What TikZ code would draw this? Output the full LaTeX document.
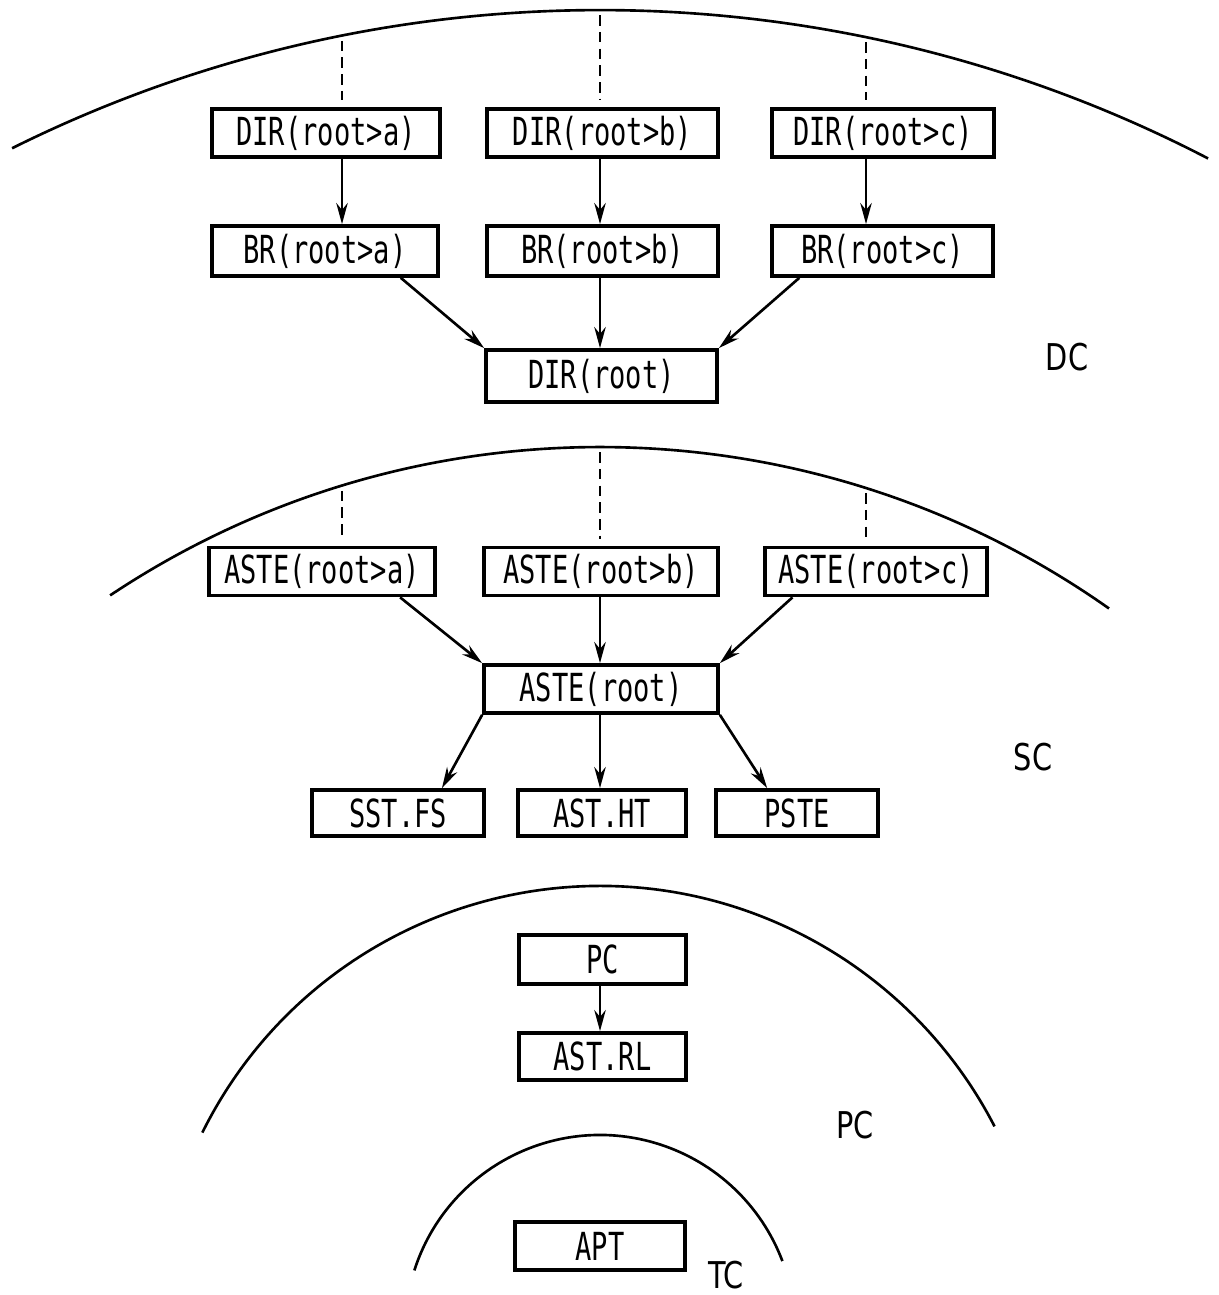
\documentclass[tikz,border=0pt]{standalone}
\usepackage{fontspec}
\usepackage{tikz}
\usetikzlibrary{arrows.meta,positioning,calc}
\newfontfamily\plotfont[FakeStretch=0.7]{DejaVu Sans Mono}
\newfontfamily\zonefont[FakeStretch=0.78]{DejaVu Sans}

\tikzset{
  box/.style={draw,line width=2.1pt,fill=white,inner sep=0pt,
              minimum height=0.96cm,font=\plotfont\fontsize{22}{24}\selectfont},
  arr/.style={-{Stealth[length=12pt,width=6.5pt]},line width=1.5pt},
  dashlink/.style={dash pattern=on 6pt off 3.5pt,line width=1.3pt,
                   shorten <=3pt,shorten >=4pt},
  ring/.style={line width=1.5pt},
  zonelabel/.style={font=\zonefont\fontsize{21}{22}\selectfont}
}

\begin{document}
\begin{tikzpicture}

    \useasboundingbox (0,0) rectangle (24.36,25.9);

    % common centre of the rings
    \coordinate (ctr) at (12,-0.7);
    \coordinate (colA) at (6.84,0);
    \coordinate (colB) at (12.0,0);
    \coordinate (colC) at (17.32,0);

    % ── rings ─────────────────────────────────────────────
    \draw[ring] ($(ctr)+(116.45:26.4)$) arc[start angle=116.45,end angle=62.57,radius=26.4];
    \draw[ring] ($(ctr)+(123.7:17.66)$) arc[start angle=123.7,end angle=54.8,radius=17.66];
    \draw[ring] ($(ctr)+(153.6:8.88)$) arc[start angle=153.6,end angle=27.3,radius=8.88];
    \draw[ring] ($(ctr)+(162.2:3.9)$) arc[start angle=162.2,end angle=20.7,radius=3.9];

    % points where the links leave the rings
    \coordinate (dcA) at (6.84,25.19);
    \coordinate (dcB) at (12.0,25.7);
    \coordinate (dcC) at (17.32,25.16);
    \coordinate (scA) at (6.84,16.19);
    \coordinate (scB) at (12.0,16.96);
    \coordinate (scC) at (17.32,16.14);

    % ── DC ────────────────────────────────────────────────
    \node[box,minimum width=4.56cm] (dira) at (6.52,23.24){DIR(root>a)};
    \node[box,minimum width=4.62cm] (dirb) at (12.05,23.24){DIR(root>b)};
    \node[box,minimum width=4.44cm] (dirc) at (17.66,23.24){DIR(root>c)};
    \node[box,minimum width=4.52cm,minimum height=1.0cm] (bra) at (6.5,20.88){BR(root>a)};
    \node[box,minimum width=4.62cm,minimum height=1.0cm] (brb) at (12.05,20.88){BR(root>b)};
    \node[box,minimum width=4.42cm,minimum height=1.0cm] (brc) at (17.65,20.88){BR(root>c)};
    \node[box,minimum width=4.62cm,minimum height=1.04cm] (dirroot) at (12.03,18.38){DIR(root)};
    \node[zonelabel] (dclabel) at (21.34,18.76){DC};

    \draw[dashlink] (dcA) -- (dira.north -| colA);
    \draw[dashlink] (dcB) -- (dirb.north -| colB);
    \draw[dashlink] (dcC) -- (dirc.north -| colC);
    \draw[arr] (dira.south -| colA) -- (bra.north -| colA);
    \draw[arr] (dirb.south -| colB) -- (brb.north -| colB);
    \draw[arr] (dirc.south -| colC) -- (brc.north -| colC);
    \draw[arr] ($(bra.south east)!0.17!(bra.south west)$) -- (dirroot.north west);
    \draw[arr] (brb.south -| colB) -- (dirroot.north -| colB);
    \draw[arr] ($(brc.south west)!0.13!(brc.south east)$) -- (dirroot.north east);

    % ── SC ────────────────────────────────────────────────
    \node[box,minimum width=4.52cm] (astea) at (6.44,14.47){ASTE(root>a)};
    \node[box,minimum width=4.68cm] (asteb) at (12.02,14.47){ASTE(root>b)};
    \node[box,minimum width=4.44cm] (astec) at (17.52,14.47){ASTE(root>c)};
    \node[box,minimum width=4.68cm] (asteroot) at (12.02,12.12){ASTE(root)};
    \node[box,minimum width=3.44cm,minimum height=0.92cm] (sstfs) at (7.96,9.64){SST.FS};
    \node[box,minimum width=3.36cm,minimum height=0.92cm] (astht) at (12.04,9.64){AST.HT};
    \node[box,minimum width=3.24cm,minimum height=0.92cm] (pste) at (15.94,9.64){PSTE};
    \node[zonelabel] (sclabel) at (20.66,10.76){SC};

    \draw[dashlink] (scA) -- (astea.north -| colA);
    \draw[dashlink] (scB) -- (asteb.north -| colB);
    \draw[dashlink] (scC) -- (astec.north -| colC);
    \draw[arr] ($(astea.south east)!0.16!(astea.south west)$) -- (asteroot.north west);
    \draw[arr] (asteb.south -| colB) -- (asteroot.north -| colB);
    \draw[arr] ($(astec.south west)!0.13!(astec.south east)$) -- (asteroot.north east);
    \draw[arr] (asteroot.south west) -- ($(sstfs.north west)!0.75!(sstfs.north east)$);
    \draw[arr] (asteroot.south -| colB) -- (astht.north -| colB);
    \draw[arr] (asteroot.south east) -- ($(pste.north west)!0.32!(pste.north east)$);

    % ── PC ────────────────────────────────────────────────
    \node[box,minimum width=3.34cm,minimum height=0.98cm] (pcbox) at (12.05,6.71){PC};
    \node[box,minimum width=3.34cm,minimum height=0.94cm] (astrl) at (12.05,4.77){AST.RL};
    \node[zonelabel] (pclabel) at (17.1,3.4){PC};
    \draw[arr] (pcbox.south -| colB) -- (astrl.north -| colB);

    % ── TC ────────────────────────────────────────────────
    \node[box,minimum width=3.4cm] (apt) at (12.0,0.98){APT};
    \node[zonelabel] (tclabel) at (14.52,0.4){TC};

\end{tikzpicture}
\end{document}
